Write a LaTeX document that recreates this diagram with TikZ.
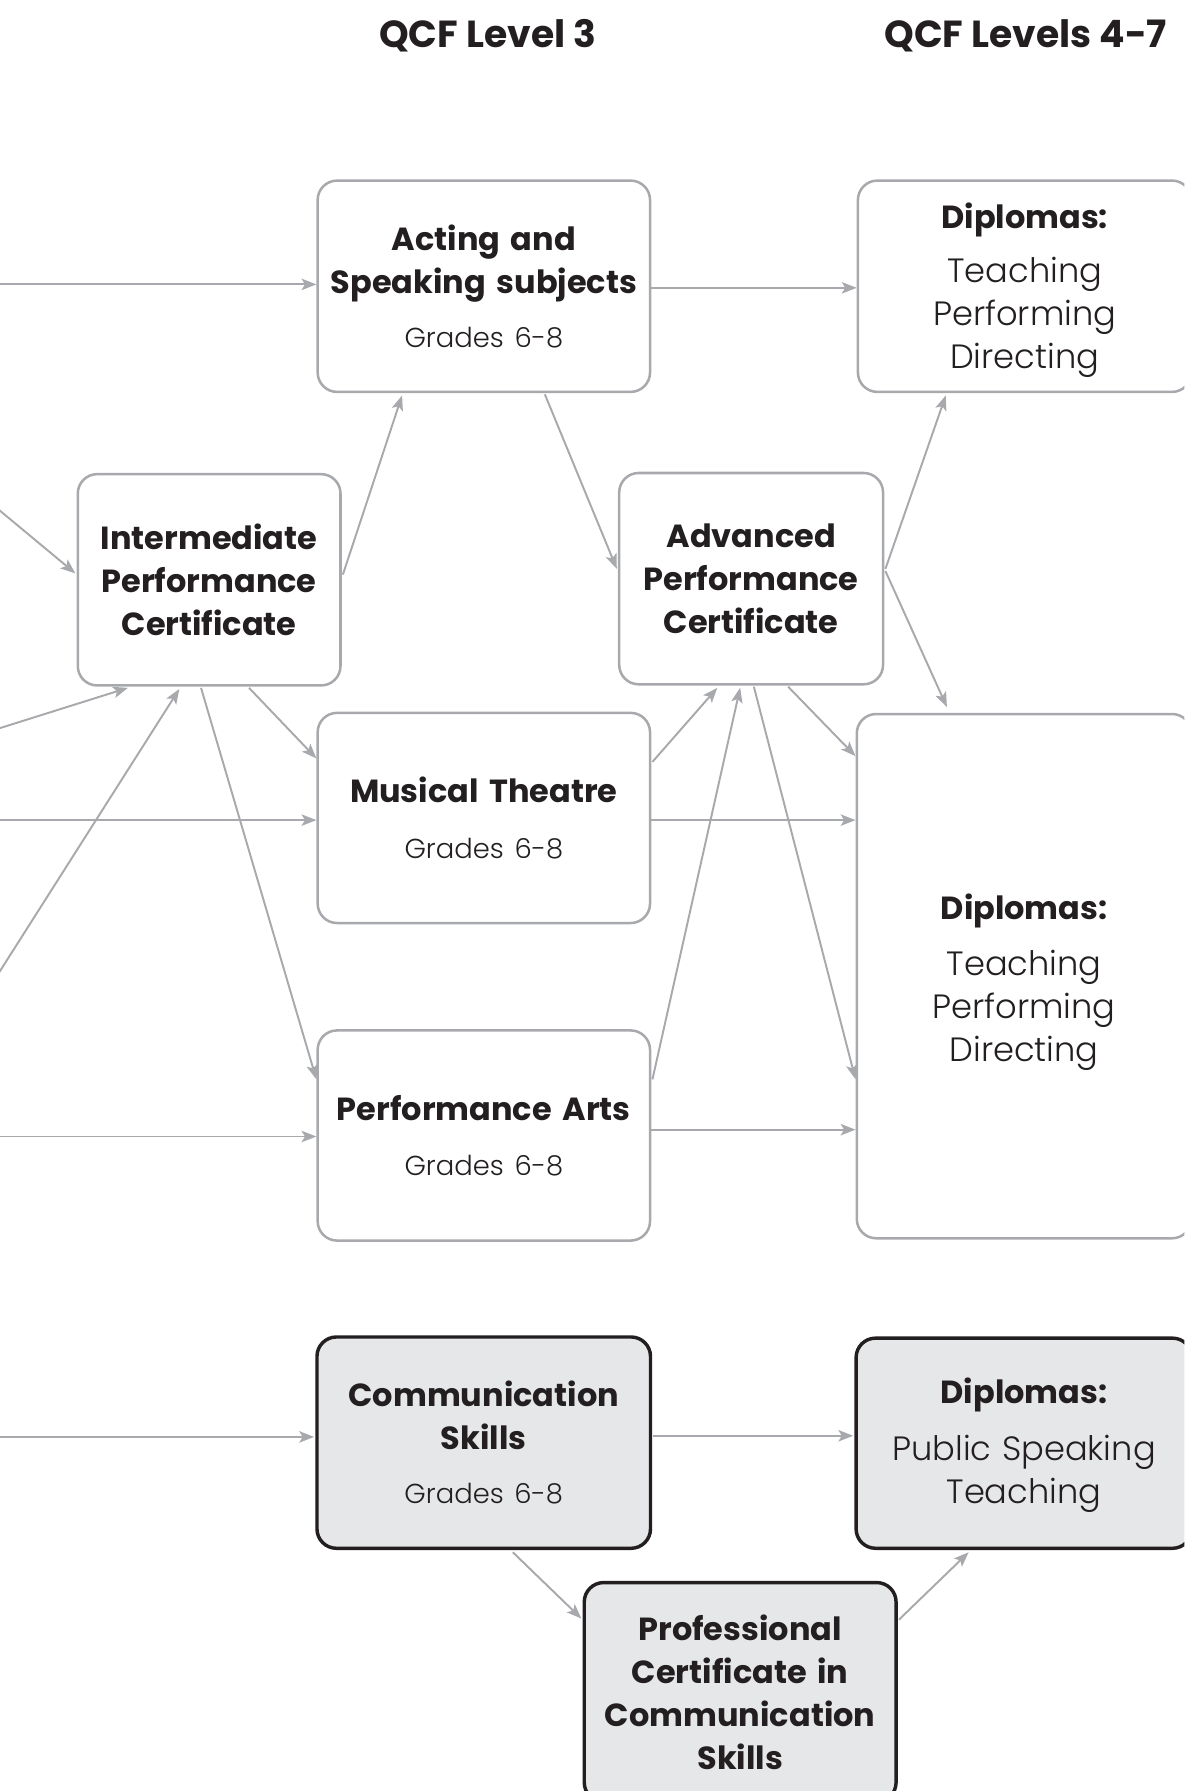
\documentclass[tikz,border=0pt]{standalone}
\usepackage{fontspec}
\setmainfont{Poppins}
\newfontfamily\lightfont{Poppins Light}
\usetikzlibrary{arrows.meta,calc}
\definecolor{boxgray}{RGB}{167,169,172}
\definecolor{arrgray}{RGB}{167,169,172}
\definecolor{fillgray}{RGB}{230,231,232}
\definecolor{ink}{RGB}{35,31,32}
\tikzset{
  box/.style={draw=boxgray, line width=2.2pt, rounded corners=17pt, fill=white,
    anchor=north west, align=center, inner sep=0pt, text=ink,
    font=\fontsize{28}{37.5}\selectfont},
  darkbox/.style={box, draw=ink, line width=3pt, fill=fillgray},
  arr/.style={draw=arrgray, line width=1.7pt, -{Stealth[length=13pt,width=10pt,inset=3pt]}},
  ttl/.style={font=\fontsize{33}{36}\selectfont\bfseries, text=ink},
}
\newcommand{\hd}[1]{{\bfseries #1}}
\newcommand{\gr}[1]{{\lightfont\fontsize{24}{37.5}\selectfont #1}}
\newcommand{\lst}[1]{{\lightfont\fontsize{29.5}{37.5}\selectfont #1}}
\begin{document}
\begin{tikzpicture}[x=1pt,y=-1pt]
\useasboundingbox (0,0) rectangle (1037,1568);
\clip (0,0) rectangle (1037,1568);
% titles
\node[ttl] (t3) at (427,31) {QCF Level 3};
\node[ttl] (t47) at (898,31) {QCF Levels 4-7};
% boxes
\node[box, minimum width=291pt, minimum height=185pt, text width=285pt] (acting) at (277,157)
  {\hd{Acting and\\Speaking subjects}\\[9.5pt]\gr{Grades 6-8}};
\node[box, minimum width=292pt, minimum height=185pt, text width=285pt] (diptop) at (750,157)
  {\rule{0pt}{29pt}\hd{Diplomas:}\\[10.5pt]\lst{Teaching\\Performing\\Directing}};
\node[box, minimum width=230pt, minimum height=185pt, text width=224pt] (inter) at (67,414)
  {\hd{Intermediate\\Performance\\Certificate}};
\node[box, minimum width=231pt, minimum height=185pt, text width=224pt] (adv) at (541,413)
  {\hd{Advanced\\Performance\\Certificate}};
\node[box, minimum width=291pt, minimum height=184pt, text width=285pt] (mt) at (277,623)
  {\hd{Musical Theatre}\\[11pt]\gr{Grades 6-8}};
\node[box, minimum width=293pt, minimum height=459pt, text width=285pt] (dipbig) at (749,624)
  {\rule{0pt}{33pt}\hd{Diplomas:}\\[12pt]\lst{Teaching\\Performing\\Directing}};
\node[box, minimum width=291pt, minimum height=184pt, text width=285pt] (pa) at (277,901)
  {\hd{Performance Arts}\\[11pt]\gr{Grades 6-8}};
\node[darkbox, minimum width=292pt, minimum height=185pt, text width=285pt] (comm) at (276,1169)
  {\hd{Communication\\Skills}\\[9.5pt]\gr{Grades 6-8}};
\node[darkbox, minimum width=294pt, minimum height=184pt, text width=285pt] (dipbot) at (748,1170)
  {\rule{0pt}{26pt}\hd{Diplomas:}\\[12pt]\lst{Public Speaking\\Teaching}};
\node[darkbox, minimum width=273pt, minimum height=192pt, text width=265pt] (prof) at (510,1384)
  {\hd{Professional\\Certificate in\\Communication\\Skills}};
% free ends at left edge
\coordinate (l1) at (-5,249);
\coordinate (l2) at (-5,443);
\coordinate (l3) at (-5,639);
\coordinate (l4) at (-5,858);
\coordinate (l5) at (-5,718);
\coordinate (l6) at (-5,995);
\coordinate (l7) at (-5,1258);
% connectors
\draw[arr] (l1) -- ($(acting.north west)+(0,92)$);
\draw[arr] ($(acting.north east)+(0,95)$) -- ($(diptop.north west)+(0,95)$);
\draw[arr] (l2) -- ($(inter.north west)+(-1,88)$);
\draw[arr] ($(inter.north east)+(1,89)$) -- ($(acting.south west)+(75,2)$);
\draw[arr] ($(acting.south west)+(200,1)$) -- ($(adv.north west)+(-1,85)$);
\draw[arr] (l3) -- ($(inter.south west)+(45,1)$);
\draw[arr] (l4) -- ($(inter.south west)+(90,2)$);
\draw[arr] ($(inter.south west)+(151,1)$) -- ($(mt.north west)+(0,41)$);
\draw[arr] ($(inter.south west)+(109,1)$) -- ($(pa.north west)+(0,44)$);
\draw[arr] (l5) -- ($(mt.north west)+(0,95)$);
\draw[arr] ($(mt.north east)+(0,95)$) -- ($(dipbig.north west)+(0,94)$);
\draw[arr] ($(mt.north east)+(1,44)$) -- ($(adv.south west)+(87,2)$);
\draw[arr] ($(pa.north east)+(1,44)$) -- ($(adv.south west)+(107,2)$);
\draw[arr] ($(adv.south west)+(119,1)$) -- ($(dipbig.north west)+(0,321)$);
\draw[arr] ($(adv.south west)+(149,1)$) -- ($(dipbig.north west)+(0,38)$);
\draw[arr] ($(adv.north east)+(1,85)$) -- ($(diptop.south west)+(78,2)$);
\draw[arr] ($(adv.north east)+(1,87)$) -- ($(dipbig.north west)+(80,-5)$);
\draw[arr] (l6) -- ($(pa.north west)+(0,94)$);
\draw[arr] ($(pa.north east)+(0,88)$) -- ($(dipbig.north west)+(0,365)$);
\draw[arr] (l7) -- ($(comm.north west)+(-1,89)$);
\draw[arr] ($(comm.north east)+(1,88)$) -- ($(dipbot.north west)+(-1,87)$);
\draw[arr] ($(comm.south west)+(173,2)$) -- ($(prof.north west)+(-1,33)$);
\draw[arr] ($(prof.north east)+(1,34)$) -- ($(dipbot.south west)+(100,2)$);
\end{tikzpicture}
\end{document}
